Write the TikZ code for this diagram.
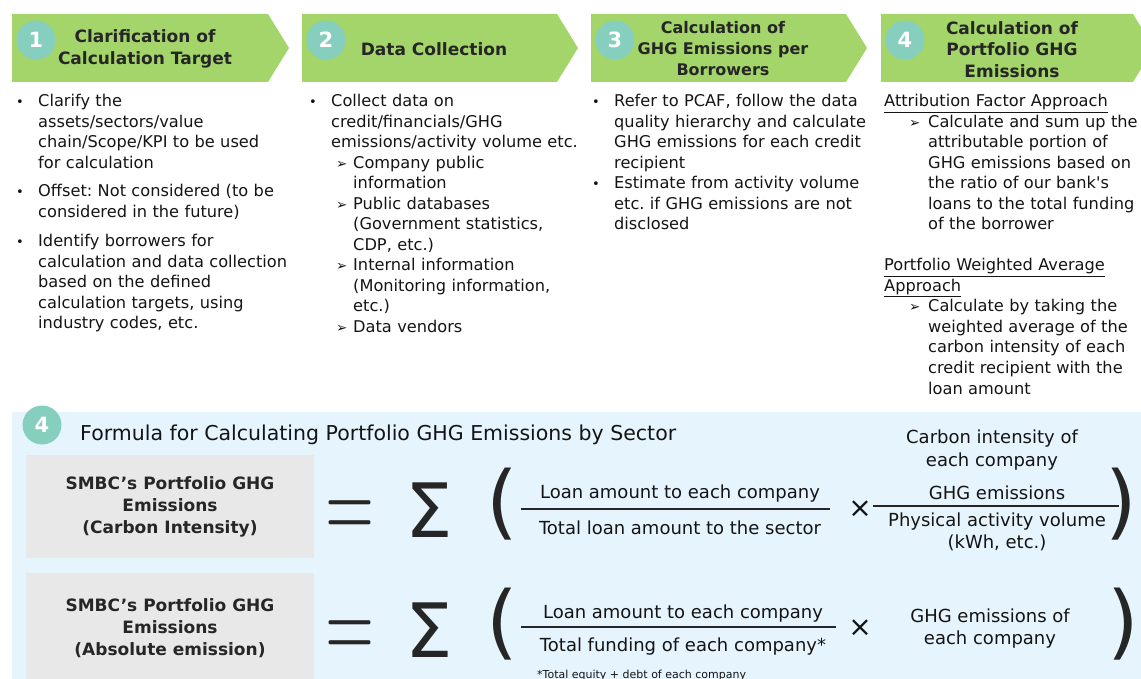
\documentclass[tikz,border=0pt]{standalone}
\usepackage{fontspec}
\setmainfont{DejaVu Sans}
\frenchspacing
\definecolor{chevgreen}{RGB}{163,213,107}
\definecolor{numteal}{RGB}{134,206,190}
\definecolor{bluebg}{RGB}{230,244,253}
\definecolor{greybg}{RGB}{232,232,232}
\definecolor{headtxt}{RGB}{38,38,38}
\definecolor{bodytxt}{RGB}{20,20,20}
\begin{document}
\begin{tikzpicture}[x=1pt,y=-1pt,
  chev/.style={fill=chevgreen,draw=none},
  numc/.style={circle,fill=numteal,minimum size=39pt,inner sep=0pt,text=white,font=\fontsize{21}{21}\selectfont\bfseries},
  head/.style={align=center,inner sep=0pt,text=headtxt,font=\fontsize{17}{21.5}\selectfont\bfseries},
  body/.style={anchor=base west,inner sep=0pt,text width=300pt,align=left,text=bodytxt,font=\fontsize{16.2}{20.5}\selectfont\frenchspacing},
  bul/.style={anchor=base,inner sep=0pt,text=bodytxt,font=\fontsize{13}{13}\selectfont},
  arr/.style={anchor=base west,inner sep=0pt,text=bodytxt,font=\fontsize{13.5}{13.5}\selectfont},
  greybox/.style={fill=greybg,minimum width=288pt,align=center,inner sep=0pt,text=headtxt,font=\fontsize{17}{22}\selectfont\bfseries},
  ftxt/.style={inner sep=0pt,align=center,text=bodytxt,font=\fontsize{18}{22.5}\selectfont},
  bigsym/.style={inner sep=0pt,text=headtxt},
  fracbar/.style={draw=headtxt,line width=1.1pt}
]
\useasboundingbox (0,0) rectangle (1141,679);
\clip (0,0) rectangle (1141,679);

% ---------- header chevrons ----------
\fill[chev] (12,14) -- (268,14) -- (289,48) -- (268,82) -- (12,82) -- cycle;
\fill[chev] (302,14) -- (557,14) -- (578,48) -- (557,82) -- (302,82) -- cycle;
\fill[chev] (591,14) -- (846,14) -- (867,48) -- (846,82) -- (591,82) -- cycle;
\fill[chev] (881,14) -- (1133,14) -- (1154,48) -- (1133,82) -- (881,82) -- cycle;

\node[numc] (n1) at (36,40) {1};
\node[numc] (n2) at (326,40) {2};
\node[numc] (n3) at (615,40) {3};
\node[numc] (n4) at (905,40) {4};

\node[head] (h1) at (145,49) {Clarification of\\Calculation Target};
\node[head] (h2) at (434,49) {Data Collection};
\node[head,font=\fontsize{16}{21}\selectfont\bfseries] (h3) at (723,49) {Calculation of\\GHG Emissions per\\Borrowers};
\node[head] (h4) at (1012,49.5) {Calculation of\\Portfolio GHG\\Emissions};

% ---------- column 1 ----------
\node[bul] (b11) at (20,107) {•};
\node[body] (t11) at (38,107) {Clarify the\\assets/sectors/value\\chain/Scope/KPI to be used\\for calculation};
\node[bul] (b12) at (20,197) {•};
\node[body] (t12) at (38,197) {Offset: Not considered (to be\\considered in the future)};
\node[bul] (b13) at (20,247) {•};
\node[body] (t13) at (38,247) {Identify borrowers for\\calculation and data collection\\based on the defined\\calculation targets, using\\industry codes, etc.};

% ---------- column 2 ----------
\node[bul] (b21) at (313,107) {•};
\node[body] (t21) at (331,107) {Collect data on\\credit/financials/GHG\\emissions/activity volume etc.};
\node[arr] (a21) at (336,168.5) {➢};
\node[body] (s21) at (353,168.5) {Company public\\information};
\node[arr] (a22) at (336,209.5) {➢};
\node[body] (s22) at (353,209.5) {Public databases\\(Government statistics,\\CDP, etc.)};
\node[arr] (a23) at (336,271) {➢};
\node[body] (s23) at (353,271) {Internal information\\(Monitoring information,\\etc.)};
\node[arr] (a24) at (336,332.5) {➢};
\node[body] (s24) at (353,332.5) {Data vendors};

% ---------- column 3 ----------
\node[bul] (b31) at (596,107) {•};
\node[body] (t31) at (614,107) {Refer to PCAF, follow the data\\quality hierarchy and calculate\\GHG emissions for each credit\\recipient};
\node[bul] (b32) at (596,189) {•};
\node[body] (t32) at (614,189) {Estimate from activity volume\\etc. if GHG emissions are not\\disclosed};

% ---------- column 4 ----------
\node[body] (u41) at (884,107) {\underline{Attribution Factor Approach}};
\node[arr] (a41) at (909,127.5) {➢};
\node[body] (t41) at (928,127.5) {Calculate and sum up the\\attributable portion of\\GHG emissions based on\\the ratio of our bank\textquotesingle s\\loans to the total funding\\of the borrower};
\node[body] (u42) at (884,271) {\underline{Portfolio Weighted Average}\\\underline{Approach}};
\node[arr] (a42) at (909,312) {➢};
\node[body] (t42) at (928,312) {Calculate by taking the\\weighted average of the\\carbon intensity of each\\credit recipient with the\\loan amount};

% ---------- formula panel ----------
\fill[bluebg] (12,412) rectangle (1141,679);
\node[numc] (n5) at (42,425) {4};
\node[anchor=base west,inner sep=0pt,text=bodytxt,font=\fontsize{20.5}{24}\selectfont] (title) at (80,440) {Formula for Calculating Portfolio GHG Emissions by Sector};

\node[greybox,minimum height=103pt] (g1) at (170,506.5) {SMBC’s Portfolio GHG\\Emissions\\(Carbon Intensity)};
\node[greybox,minimum height=110pt] (g2) at (170,628) {SMBC’s Portfolio GHG\\Emissions\\(Absolute emission)};

% row 1
\node[bigsym,anchor=base,xscale=6.3,yscale=10.3] (eq1) at (349.5,538.5) {$=$};
\node[bigsym,font=\fontsize{75}{75}\selectfont] (sig1) at (429,510.5) {Σ};
\node[bigsym,font=\fontsize{81}{81}\selectfont] (lp1) at (502.5,504) {(};
\node[ftxt] (num1) at (680,494) {Loan amount to each company};
\node[ftxt] (den1) at (680,528) {Total loan amount to the sector};
\coordinate (f1a) at (521,509);
\coordinate (f1b) at (830,509);
\draw[fracbar] (f1a) -- (f1b);
\node[ftxt,font=\fontsize{28}{28}\selectfont] (x1) at (860,509) {×};
\node[ftxt] (ci) at (992,450) {Carbon intensity of\\each company};
\node[ftxt] (ghg1) at (997,493) {GHG emissions};
\coordinate (f2a) at (873,506);
\coordinate (f2b) at (1119,506);
\draw[fracbar] (f2a) -- (f2b);
\node[ftxt] (pav) at (997,532) {Physical activity volume\\(kWh, etc.)};
\node[bigsym,font=\fontsize{81}{81}\selectfont] (rp1) at (1121,504) {)};

% row 2
\node[bigsym,anchor=base,xscale=6.3,yscale=10.3] (eq2) at (349.5,658) {$=$};
\node[bigsym,font=\fontsize{75}{75}\selectfont] (sig2) at (429,630.5) {Σ};
\node[bigsym,font=\fontsize{81}{81}\selectfont] (lp2) at (502.5,624) {(};
\node[ftxt] (num2) at (683,614) {Loan amount to each company};
\node[ftxt] (den2) at (683,647) {Total funding of each company*};
\coordinate (f3a) at (521,627);
\coordinate (f3b) at (836,627);
\draw[fracbar] (f3a) -- (f3b);
\node[ftxt,font=\fontsize{28}{28}\selectfont] (x2) at (860,628) {×};
\node[ftxt] (ghg2) at (990,628.5) {GHG emissions of\\each company};
\node[bigsym,font=\fontsize{81}{81}\selectfont] (rp2) at (1123,624) {)};

\node[anchor=base west,inner sep=0pt,text=bodytxt,font=\fontsize{11}{11}\selectfont] (foot) at (537,678) {*Total equity + debt of each company};
\end{tikzpicture}
\end{document}
